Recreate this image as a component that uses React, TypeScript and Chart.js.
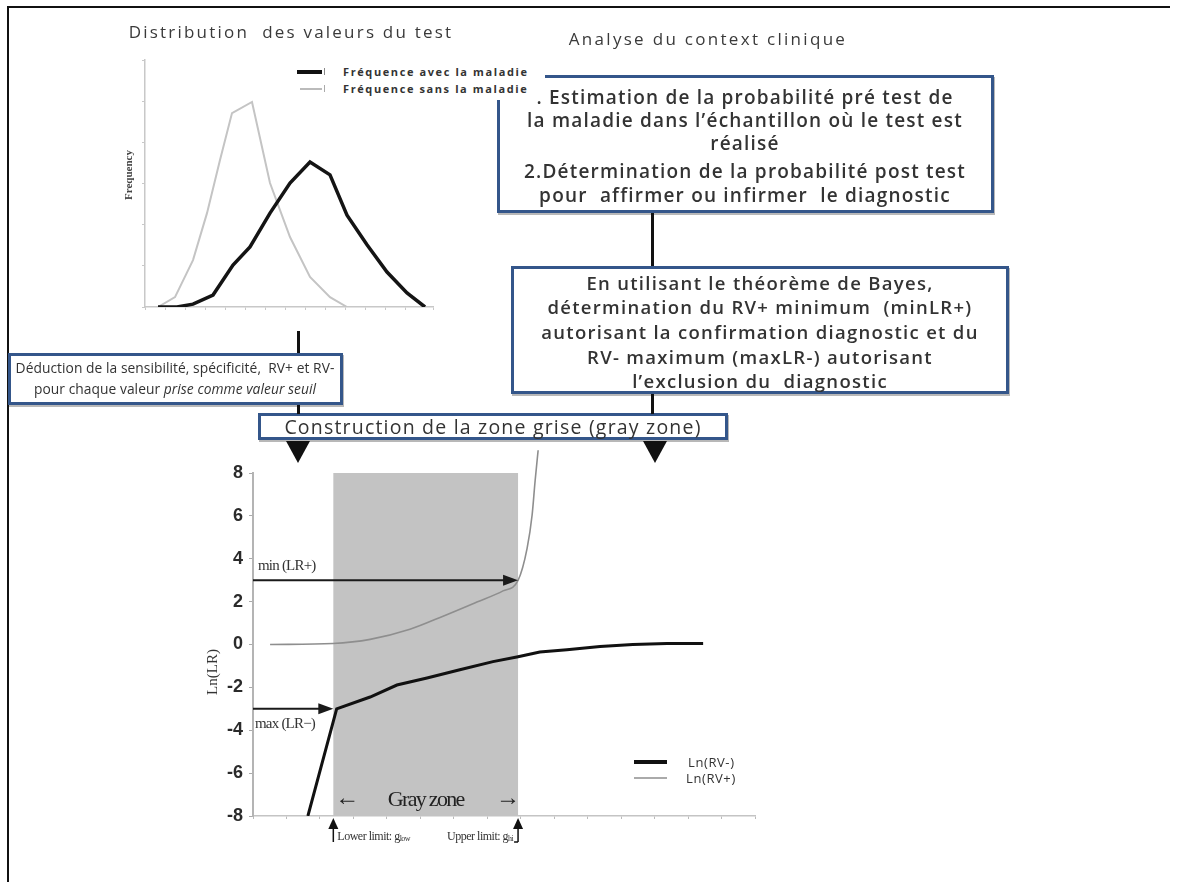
import React, { useEffect, useRef } from "react";
import { Chart, registerables } from "chart.js";

Chart.register(...registerables);

// ---------- Top chart: distribution of the test values ----------
const distWithX = [0.65, 1.6, 2.4, 3.4, 4.4, 5.25, 6.25, 7.25, 8.25, 9.25, 10.1, 11.1, 12.1, 13.1, 14.0];
const freqWithDisease = [0, 0, 0.07, 0.29, 1.02, 1.46, 2.28, 3.01, 3.52, 3.21, 2.23, 1.51, 0.85, 0.34, 0];
const distWithoutX = [0.65, 1.5, 2.4, 3.1, 3.75, 4.35, 5.35, 6.25, 7.25, 8.25, 9.25, 10.1];
const freqWithoutDisease = [0, 0.24, 1.14, 2.28, 3.57, 4.71, 4.98, 3.01, 1.7, 0.73, 0.24, 0];
const distLegend = ["Fréquence avec la maladie", "Fréquence sans la maladie"];
const distTitle = "Distribution  des valeurs du test";
const distYTitle = "Frequency";

// ---------- Bottom chart: Ln(LR) and gray zone ----------
const lnRVminusX = [1.64, 2.5, 3.5, 4.3, 5.2, 6.18, 7.17, 7.92, 8.57, 9.38, 10.37, 11.35, 12.37, 13.45];
const lnRVminusY = [-8, -3.0, -2.45, -1.89, -1.56, -1.18, -0.8, -0.57, -0.35, -0.24, -0.09, 0, 0.05, 0.05];
const lnRVplusX = [0.51, 2.39, 3.5, 4.69, 5.68, 6.69, 7.47, 7.92, 8.19, 8.34, 8.43, 8.52];
const lnRVplusY = [0, 0.05, 0.24, 0.71, 1.32, 1.98, 2.5, 2.99, 4.48, 6.04, 7.64, 9.06];
const lrLegend = ["Ln(RV-)", "Ln(RV+)"];
const lrYTitle = "Ln(LR)";
const grayZoneLow = 2.4;
const grayZoneHigh = 7.92;
const minLRplus = 3;
const maxLRminus = -3;
const lrLabels = ["min (LR+)", "max (LR\u2212)", "Gray zone", "Lower limit: g", "low", "Upper limit: g", "hi"];

// ---------- Flowchart texts ----------
const contextTitle = "Analyse du context clinique";
const box1Lines = [
  ". Estimation de la probabilité pré test de",
  "la maladie dans l\u2019échantillon où le test est",
  "réalisé",
  "2.Détermination de la probabilité post test",
  "pour  affirmer ou infirmer  le diagnostic",
];
const box2Lines = [
  "En utilisant le théorème de Bayes,",
  "détermination du RV+ minimum  (minLR+)",
  "autorisant la confirmation diagnostic et du",
  "RV- maximum (maxLR-) autorisant",
  "l\u2019exclusion du  diagnostic",
];
const box3Line1 = "Déduction de la sensibilité, spécificité,  RV+ et RV-";
const box3Line2a = "pour chaque valeur ";
const box3Line2b = "prise comme valeur seuil";
const box4Text = "Construction de la zone grise (gray zone)";

const SANS = "'Open Sans', 'Noto Sans', sans-serif";
const SERIF = "'Liberation Serif', 'DejaVu Serif', serif";

function DistChart() {
  const ref = useRef<HTMLCanvasElement>(null);
  useEffect(() => {
    const axisGrid = { drawOnChartArea: false, tickLength: 3, color: "#c8c8c8" };
    const chart = new Chart(ref.current!, {
      type: "line",
      data: {
        datasets: [
          {
            label: distLegend[0],
            data: distWithX.map((x, i) => ({ x, y: freqWithDisease[i] })),
            borderColor: "#141414",
            borderWidth: 3.5,
            pointRadius: 0,
            tension: 0,
          },
          {
            label: distLegend[1],
            data: distWithoutX.map((x, i) => ({ x, y: freqWithoutDisease[i] })),
            borderColor: "#c4c4c4",
            borderWidth: 2,
            pointRadius: 0,
            tension: 0,
          },
        ],
      },
      options: {
        responsive: false,
        animation: false,
        layout: { padding: { left: 18, right: 17, top: 20, bottom: 0 } },
        plugins: { legend: { display: false }, tooltip: { enabled: false } },
        scales: {
          x: {
            type: "linear",
            min: 0,
            max: 14.4,
            ticks: { display: false, stepSize: 1 },
            grid: axisGrid,
            border: { color: "#c8c8c8", width: 1.5 },
            afterFit: (s: any) => {
              s.height = 23;
            },
          },
          y: {
            min: 0,
            max: 6,
            ticks: { display: false, stepSize: 1 },
            grid: axisGrid,
            border: { color: "#c8c8c8", width: 1.5 },
            afterFit: (s: any) => {
              s.width = 27;
            },
          },
        },
      },
    } as any);
    return () => chart.destroy();
  }, []);
  return (
    <canvas ref={ref} width={350} height={290} style={{ position: "absolute", left: 100, top: 40 }} />
  );
}

function arrowRight(ctx: CanvasRenderingContext2D, x0: number, x1: number, y: number) {
  ctx.beginPath();
  ctx.moveTo(x0, y);
  ctx.lineTo(x1 - 10, y);
  ctx.stroke();
  ctx.beginPath();
  ctx.moveTo(x1, y);
  ctx.lineTo(x1 - 15, y - 5.5);
  ctx.lineTo(x1 - 15, y + 5.5);
  ctx.closePath();
  ctx.fill();
}

function arrowUp(ctx: CanvasRenderingContext2D, x: number, yBottom: number, yTip: number) {
  ctx.beginPath();
  ctx.moveTo(x, yBottom);
  ctx.lineTo(x, yTip + 8);
  ctx.stroke();
  ctx.beginPath();
  ctx.moveTo(x, yTip);
  ctx.lineTo(x - 5, yTip + 11);
  ctx.lineTo(x + 5, yTip + 11);
  ctx.closePath();
  ctx.fill();
}

const grayZonePlugin = {
  id: "grayZone",
  beforeDatasetsDraw(chart: any) {
    const { ctx, scales } = chart;
    const x = scales.x;
    const y = scales.y;
    const x0 = x.getPixelForValue(grayZoneLow);
    const x1 = x.getPixelForValue(grayZoneHigh);
    const y0 = y.getPixelForValue(8);
    const y1 = y.getPixelForValue(-8);
    ctx.save();
    ctx.fillStyle = "#c3c3c3";
    ctx.fillRect(x0, y0, x1 - x0, y1 - y0);
    ctx.restore();
  },
  afterDatasetsDraw(chart: any) {
    const { ctx, scales } = chart;
    const x = scales.x;
    const y = scales.y;
    const xl = x.getPixelForValue(0);
    const xg0 = x.getPixelForValue(grayZoneLow);
    const xg1 = x.getPixelForValue(grayZoneHigh);
    const yMin = y.getPixelForValue(minLRplus);
    const yMax = y.getPixelForValue(maxLRminus);
    const yBottom = y.getPixelForValue(-8);
    ctx.save();
    ctx.strokeStyle = "#1a1a1a";
    ctx.fillStyle = "#1a1a1a";
    ctx.lineWidth = 2;
    arrowRight(ctx, xl, xg1, yMin);
    arrowRight(ctx, xl, xg0, yMax);

    ctx.fillStyle = "#333";
    ctx.font = `15px ${SERIF}`;
    (ctx as any).letterSpacing = "-0.8px";
    ctx.textBaseline = "middle";
    ctx.textAlign = "left";
    ctx.fillText(lrLabels[0], xl + 5, yMin - 14);
    ctx.fillText(lrLabels[1], xl + 2, yMax + 15);

    // Gray zone label
    ctx.font = `22px ${SERIF}`;
    (ctx as any).letterSpacing = "-1.7px";
    ctx.textAlign = "center";
    ctx.fillStyle = "#222";
    ctx.fillText(lrLabels[2], (xg0 + xg1) / 2, yBottom - 16);
    (ctx as any).letterSpacing = "0px";
    ctx.font = `24px ${SERIF}`;
    ctx.fillText("\u2190", xg0 + 14, yBottom - 17);
    ctx.fillText("\u2192", xg1 - 10, yBottom - 17);

    // limit arrows under the axis
    ctx.fillStyle = "#111";
    ctx.strokeStyle = "#111";
    ctx.lineWidth = 1.5;
    arrowUp(ctx, xg0, yBottom + 26, yBottom + 2);
    arrowUp(ctx, xg1, yBottom + 26, yBottom + 2);
    ctx.beginPath();
    ctx.moveTo(xg1, yBottom + 26);
    ctx.lineTo(xg1 - 4, yBottom + 26);
    ctx.stroke();

    ctx.font = `12px ${SERIF}`;
    (ctx as any).letterSpacing = "-0.5px";
    ctx.textAlign = "left";
    ctx.fillStyle = "#333";
    const ty = yBottom + 21;
    ctx.fillText(lrLabels[3], xg0 + 4, ty);
    let w = ctx.measureText(lrLabels[3]).width;
    ctx.font = `8px ${SERIF}`;
    ctx.fillText(lrLabels[4], xg0 + 4 + w, ty + 2);
    ctx.font = `12px ${SERIF}`;
    const t2 = lrLabels[5];
    w = ctx.measureText(t2).width;
    const sx = xg1 - 10 - w;
    ctx.fillText(t2, sx, ty);
    ctx.font = `8px ${SERIF}`;
    ctx.fillText(lrLabels[6], sx + w, ty + 2);
    ctx.restore();
  },
};

function LRChart() {
  const ref = useRef<HTMLCanvasElement>(null);
  useEffect(() => {
    const chart = new Chart(ref.current!, {
      type: "line",
      data: {
        datasets: [
          {
            label: lrLegend[0],
            data: lnRVminusX.map((x, i) => ({ x, y: lnRVminusY[i] })),
            borderColor: "#111",
            borderWidth: 3,
            pointRadius: 0,
            tension: 0,
          },
          {
            label: lrLegend[1],
            data: lnRVplusX.map((x, i) => ({ x, y: lnRVplusY[i] })),
            borderColor: "#8e8e8e",
            borderWidth: 1.6,
            pointRadius: 0,
            cubicInterpolationMode: "monotone",
            clip: false,
          },
        ],
      },
      options: {
        responsive: false,
        animation: false,
        layout: { padding: { left: 0, right: 25, top: 33, bottom: 0 } },
        plugins: { legend: { display: false }, tooltip: { enabled: false } },
        scales: {
          x: {
            type: "linear",
            min: 0,
            max: 15,
            ticks: { display: false, stepSize: 1 },
            grid: { drawOnChartArea: false, tickLength: 3, color: "#bbb" },
            border: { color: "#c4c4c4", width: 1.5 },
            afterFit: (s: any) => {
              s.height = 44;
            },
          },
          y: {
            min: -8,
            max: 8,
            ticks: {
              stepSize: 2,
              padding: 6,
              color: "#2a2a2a",
              font: { family: "'Liberation Sans', Arial, sans-serif", size: 18, weight: "bold" },
            },
            grid: { drawOnChartArea: false, tickLength: 4, color: "#aaa" },
            border: { color: "#b4b4b4", width: 2 },
            afterFit: (s: any) => {
              s.width = 53;
            },
          },
        },
      },
      plugins: [grayZonePlugin],
    } as any);
    return () => chart.destroy();
  }, []);
  return (
    <canvas ref={ref} width={580} height={420} style={{ position: "absolute", left: 200, top: 440 }} />
  );
}

const BLUE = "#34568a";

function Box({ l, t, r, b, z = 1 }: { l: number; t: number; r: number; b: number; z?: number }) {
  return (
    <div
      style={{
        position: "absolute",
        left: l,
        top: t,
        width: r - l,
        height: b - t,
        boxSizing: "border-box",
        border: `3px solid ${BLUE}`,
        background: "#fff",
        boxShadow: "1px 2px 0 #b8b8b8",
        zIndex: z,
      }}
    />
  );
}

function Line({ cx, cy, w = 700, size, weight = 400, ls = 0, children, z = 2, color = "#333" }: any) {
  return (
    <div
      style={{
        position: "absolute",
        left: cx - w / 2,
        top: cy - 13,
        width: w,
        height: 26,
        lineHeight: "26px",
        textAlign: "center",
        whiteSpace: "pre",
        fontFamily: SANS,
        fontSize: size,
        fontWeight: weight,
        letterSpacing: ls,
        color,
        zIndex: z,
      }}
    >
      {children}
    </div>
  );
}

function VLine({ x, y0, y1 }: { x: number; y0: number; y1: number }) {
  return <div style={{ position: "absolute", left: x - 1.5, top: y0, width: 3, height: y1 - y0, background: "#111", zIndex: 3 }} />;
}

function Tri({ cx, top }: { cx: number; top: number }) {
  return (
    <div
      style={{
        position: "absolute",
        left: cx - 12,
        top,
        width: 0,
        height: 0,
        borderLeft: "12px solid transparent",
        borderRight: "12px solid transparent",
        borderTop: "22px solid #111",
        zIndex: 3,
      }}
    />
  );
}

const legendText = {
  position: "absolute" as const,
  left: 53,
  fontFamily: SANS,
  fontSize: 11,
  fontWeight: 700,
  letterSpacing: 1.6,
  lineHeight: "14px",
  color: "#333",
  whiteSpace: "nowrap" as const,
};

export default function App() {
  const box1Y = [97, 120, 143, 171, 195];
  const box2Y = [283, 307, 332, 357, 381];
  return (
    <div style={{ position: "absolute", left: 0, top: 0, width: 1178, height: 882, background: "#fff", overflow: "hidden" }}>
      {/* frame */}
      <div style={{ position: "absolute", left: 7, top: 6, width: 1163, height: 2, background: "#111" }} />
      <div style={{ position: "absolute", left: 7, top: 6, width: 2, height: 880, background: "#111" }} />

      {/* titles */}
      <Line cx={291} cy={32} size={17} ls={2.2} color="#3a3a3a">{distTitle}</Line>
      <Line cx={708} cy={39} size={17} ls={2.3} color="#3a3a3a">{contextTitle}</Line>

      <DistChart />
      <div
        style={{
          position: "absolute",
          left: 128 - 40,
          top: 175 - 7,
          width: 80,
          height: 14,
          lineHeight: "14px",
          textAlign: "center",
          fontFamily: SERIF,
          fontSize: 11,
          fontWeight: 700,
          color: "#444",
          transform: "rotate(-90deg)",
        }}
      >
        {distYTitle}
      </div>

      {/* box 1 */}
      <Box l={497} t={75} r={994} b={213} />
      {box1Lines.map((s, i) => (
        <Line key={i} cx={745} cy={box1Y[i]} size={19} weight={600} ls={1.2}>
          {s}
        </Line>
      ))}

      {/* top-chart legend (covers box corner) */}
      <div style={{ position: "absolute", left: 290, top: 62, width: 255, height: 38, background: "#fff", zIndex: 4 }}>
        <div style={{ position: "absolute", left: 7, top: 8, width: 25, height: 4, background: "#111" }} />
        <div style={{ position: "absolute", left: 34, top: 6, width: 1, height: 7, background: "#888" }} />
        <div style={{ position: "absolute", left: 10, top: 26, width: 22, height: 1.5, background: "#bbb" }} />
        <div style={{ position: "absolute", left: 34, top: 23, width: 1, height: 7, background: "#aaa" }} />
        <div style={{ ...legendText, top: 3 }}>{distLegend[0]}</div>
        <div style={{ ...legendText, top: 20 }}>{distLegend[1]}</div>
      </div>

      {/* connectors */}
      <VLine x={652} y0={213} y1={266} />
      <VLine x={652} y0={394} y1={414} />
      <VLine x={298} y0={331} y1={353} />
      <VLine x={298} y0={405} y1={414} />

      {/* box 2 */}
      <Box l={511} t={266} r={1009} b={394} />
      {box2Lines.map((s, i) => (
        <Line key={i} cx={760} cy={box2Y[i]} size={18.5} weight={600} ls={1.3}>
          {s}
        </Line>
      ))}

      {/* box 3 */}
      <Box l={8} t={353} r={343} b={405} />
      <Line cx={175} cy={368} size={13.8} weight={500} ls={0.05}>
        {box3Line1}
      </Line>
      <Line cx={175} cy={389} size={13.8} weight={500} ls={0.05}>
        {box3Line2a}
        <i>{box3Line2b}</i>
      </Line>

      {/* box 4 */}
      <Box l={258} t={413} r={728} b={440} z={2} />
      <Line cx={493} cy={427} size={19.5} weight={400} ls={1.2} z={3}>
        {box4Text}
      </Line>

      <Tri cx={298} top={441} />
      <Tri cx={655} top={441} />

      <LRChart />
      <div
        style={{
          position: "absolute",
          left: 212 - 40,
          top: 672 - 10,
          width: 80,
          height: 20,
          lineHeight: "20px",
          textAlign: "center",
          fontFamily: SERIF,
          fontSize: 15,
          color: "#333",
          transform: "rotate(-90deg)",
        }}
      >
        {lrYTitle}
      </div>

      {/* bottom legend */}
      <div style={{ position: "absolute", left: 634, top: 760, width: 33, height: 4, background: "#111" }} />
      <div style={{ position: "absolute", left: 634, top: 777, width: 33, height: 2, background: "#aaa" }} />
      <div style={{ position: "absolute", left: 688, top: 753, fontFamily: SANS, fontSize: 13, letterSpacing: 0.6, lineHeight: "18px", color: "#333" }}>
        {lrLegend[0]}
      </div>
      <div style={{ position: "absolute", left: 686, top: 769, fontFamily: SANS, fontSize: 13, letterSpacing: 0.6, lineHeight: "18px", color: "#333" }}>
        {lrLegend[1]}
      </div>
    </div>
  );
}
